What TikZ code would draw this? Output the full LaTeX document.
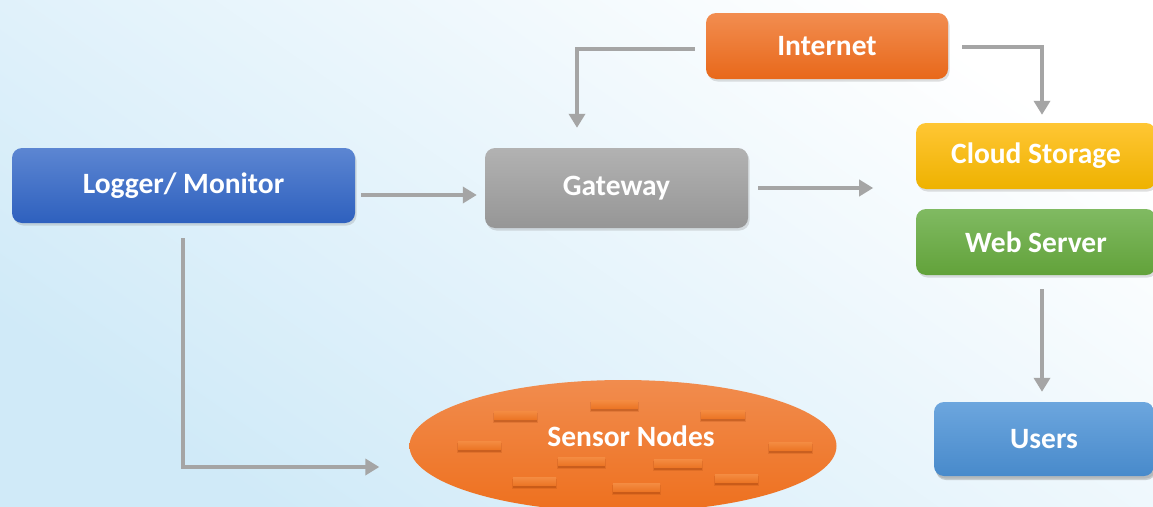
\documentclass[tikz,border=0pt]{standalone}
\usepackage{fontspec}
\setmainfont{Carlito}
\usetikzlibrary{arrows.meta,shapes.geometric,shadows}
\definecolor{arrgray}{RGB}{165,165,165}
\definecolor{bgblue}{RGB}{208,234,248}
\definecolor{barshadow}{RGB}{160,62,10}
\tikzset{
  lbl/.style={text=white, font=\bfseries\fontsize{29.5}{31}\selectfont},
  box/.style={rounded corners=10pt, inner sep=0pt, lbl,
    drop shadow={shadow xshift=1.5pt, shadow yshift=-2.5pt, opacity=0.25}},
  arr/.style={draw=arrgray, line width=4pt, -{Triangle[length=14pt,width=16pt]}},
  bar/.style={top color={rgb,255:red,244;green,140;blue,66}, bottom color={rgb,255:red,236;green,118;blue,38}},
  barsh/.style={fill=barshadow}
}
\begin{document}
\begin{tikzpicture}[x=1pt,y=-1pt]
\useasboundingbox (0,0) rectangle (1153,506);
\shade[top color=white, bottom color=bgblue, shading angle=-35] (0,0) rectangle (1153,506);

% nodes
\node[box, minimum width=343pt, minimum height=75pt,
  top color={rgb,255:red,92;green,134;blue,210}, bottom color={rgb,255:red,46;green,96;blue,190}]
  (logger) at (183.5,185.5) {Logger/ Monitor};
\node[box, minimum width=263pt, minimum height=80pt,
  top color={rgb,255:red,178;green,178;blue,178}, bottom color={rgb,255:red,150;green,150;blue,150}]
  (gateway) at (616.5,188) {Gateway};
\node[box, minimum width=242pt, minimum height=66pt,
  top color={rgb,255:red,242;green,141;blue,80}, bottom color={rgb,255:red,232;green,104;blue,26}]
  (internet) at (827,46) {Internet};
\node[box, minimum width=240pt, minimum height=66pt,
  top color={rgb,255:red,255;green,198;blue,52}, bottom color={rgb,255:red,238;green,178;blue,0}]
  (cloud) at (1036,156) {Cloud Storage};
\node[box, minimum width=240pt, minimum height=66pt,
  top color={rgb,255:red,128;green,186;blue,98}, bottom color={rgb,255:red,98;green,162;blue,58}]
  (web) at (1036,242) {Web Server};
\node[box, minimum width=220pt, minimum height=74pt,
  drop shadow={shadow xshift=2pt, shadow yshift=-4pt, opacity=0.35},
  top color={rgb,255:red,108;green,166;blue,222}, bottom color={rgb,255:red,72;green,138;blue,203}]
  (users) at (1044,439) {Users};

% sensor ellipse
\node[ellipse, inner sep=0pt, minimum width=427pt, minimum height=132pt,
  top color={rgb,255:red,241;green,140;blue,78}, bottom color={rgb,255:red,238;green,112;blue,30}]
  (sensors) at (623,446) {};
\foreach \x/\y/\w in {494/411/43, 591/400/47, 701/410/44, 458/441/43, 769/442/43,
                      558/457/47, 654/459/48, 513/477/43, 715/474/43, 613/483/47}{
  \fill[barsh, opacity=0.18] (\x-1,\y+2) rectangle ++(\w+2,10);
  \fill[barsh, opacity=0.35] (\x,\y+3) rectangle ++(\w,7.5);
  \shade[bar] (\x,\y) rectangle ++(\w,8);
}
\node[lbl, inner sep=0pt] (sensorlabel) at (631,436) {Sensor Nodes};

% connectors
\draw[arr] ([shift={(6,9.5)}]logger.east) -- ([shift={(-8,7)}]gateway.west);
\draw[arr] ([xshift=10pt]gateway.east) -- ++(115,0);
\draw[arr] ([shift={(-11,3)}]internet.west) -| ([shift={(-39.5,-20)}]gateway.north);
\draw[arr] ([shift={(14,1)}]internet.east) -| ([shift={(6,-8)}]cloud.north);
\draw[arr] ([shift={(-0.5,15)}]logger.south) |- ([shift={(-30,21)}]sensors.west);
\draw[arr] ([shift={(-2,14)}]users.north|-web.south) -- ([shift={(-2,-10)}]users.north);
\end{tikzpicture}
\end{document}
